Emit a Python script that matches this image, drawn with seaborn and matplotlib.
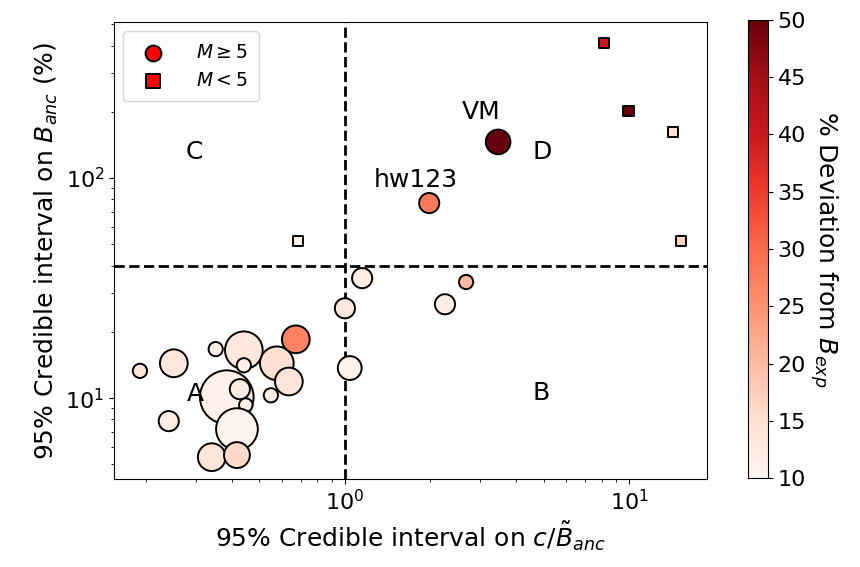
import numpy as np
import pandas as pd
import matplotlib
matplotlib.use("Agg")
import matplotlib.pyplot as plt
import seaborn as sns

# Sites with M >= 5 specimens (circles)
circ_ci_ratio = [0.190, 0.250, 0.351, 0.441, 0.441, 0.576, 0.672, 0.635, 0.549,
                 0.384, 0.427, 0.448, 0.240, 0.417, 0.340, 0.417, 1.00, 1.04,
                 1.15, 2.25, 2.67, 1.98, 3.46]
circ_ci_banc = [13.3, 14.4, 16.7, 16.5, 14.1, 14.4, 18.5, 11.9, 10.3,
                10.1, 10.98, 9.3, 7.86, 7.23, 5.39, 5.51, 25.6, 13.7,
                35.1, 26.7, 33.7, 77.0, 146.0]
circ_dev = [14, 13, 11, 13, 11, 15, 27, 14, 12,
            11, 12, 11, 12, 10.5, 14, 16, 13, 10.5,
            12, 12, 20, 28, 50]
circ_m = [5, 19, 5, 35, 5, 28, 19, 19, 5,
          71, 10, 4.5, 10, 43, 19, 16.5, 10, 14,
          10, 10, 5, 10, 15]

# Sites with M < 5 specimens (squares)
sq_ci_ratio = [8.17, 9.95, 14.3, 15.2, 0.683]
sq_ci_banc = [411.0, 202.0, 162.0, 51.8, 51.8]
sq_dev = [40, 50, 15, 17, 11]

# Named sites
named_sites = ["VM", "hw123"]
named_xy = [(3.01, 200.0), (1.78, 98.0)]

# Quadrant names
quad_names = ["A", "B", "C", "D"]
quad_xy = [(0.298, 10.4), (4.91, 10.6), (0.296, 131.0), (4.94, 131.0)]

circles = pd.DataFrame({"ratio": circ_ci_ratio, "banc": circ_ci_banc,
                        "dev": circ_dev, "M": circ_m})
squares = pd.DataFrame({"ratio": sq_ci_ratio, "banc": sq_ci_banc, "dev": sq_dev})

norm = matplotlib.colors.Normalize(vmin=10, vmax=50)
cmap = plt.get_cmap("Reds")

fig = plt.figure(figsize=(8.6, 5.67), dpi=100)
ax = fig.add_axes([114 / 860, 88 / 567, 593 / 860, 457 / 567])
cax = fig.add_axes([748 / 860, 89 / 567, 20 / 860, 458 / 567])

ax.set_xscale("log")
ax.set_yscale("log")

# marker area grows linearly with number of specimens
m_area = 21.0
sns.scatterplot(data=circles, x="ratio", y="banc", hue="dev", palette="Reds",
                hue_norm=norm, size="M",
                sizes=(min(circ_m) * m_area, max(circ_m) * m_area),
                size_norm=(min(circ_m), max(circ_m)),
                marker="o", edgecolor="black", linewidth=1.4, alpha=1,
                legend=False, ax=ax, zorder=3)
sns.scatterplot(data=squares, x="ratio", y="banc", hue="dev", palette="Reds",
                hue_norm=norm, marker="s", s=55, edgecolor="black",
                linewidth=1.4, alpha=1, legend=False, ax=ax, zorder=3)

ax.axvline(1.0, color="black", linestyle="--", linewidth=2, zorder=2)
ax.axhline(40.0, color="black", linestyle="--", linewidth=2, zorder=2)

for name, (x, y) in zip(named_sites, named_xy):
    ax.text(x, y, name, fontsize=18, ha="center", va="center")
for name, (x, y) in zip(quad_names, quad_xy):
    ax.text(x, y, name, fontsize=18, ha="center", va="center")

ax.set_xlim(0.154, 18.8)
ax.set_ylim(4.29, 512)
ax.set_xlabel(r"95% Credible interval on $c/\tilde{B}_{anc}$", fontsize=18)
ax.set_ylabel(r"95% Credible interval on $B_{anc}$ (%)", fontsize=18)
ax.tick_params(axis="both", which="major", labelsize=16)

h1 = ax.scatter([], [], marker="o", s=130, color="red", edgecolor="black", linewidth=1.4)
h2 = ax.scatter([], [], marker="s", s=90, color="red", edgecolor="black", linewidth=1.4)
ax.legend([h1, h2], [r"$M \geq 5$", r"$M < 5$"], loc="upper left", fontsize=13.5,
          borderpad=0.6, handletextpad=1.3)

sm = matplotlib.cm.ScalarMappable(norm=norm, cmap=cmap)
cb = fig.colorbar(sm, cax=cax, ticks=[10, 15, 20, 25, 30, 35, 40, 45, 50])
cb.ax.tick_params(labelsize=16)
cb.set_label(r"% Deviation from $B_{exp}$", fontsize=18, rotation=270, labelpad=24)

fig.savefig("out.png", dpi=100)
